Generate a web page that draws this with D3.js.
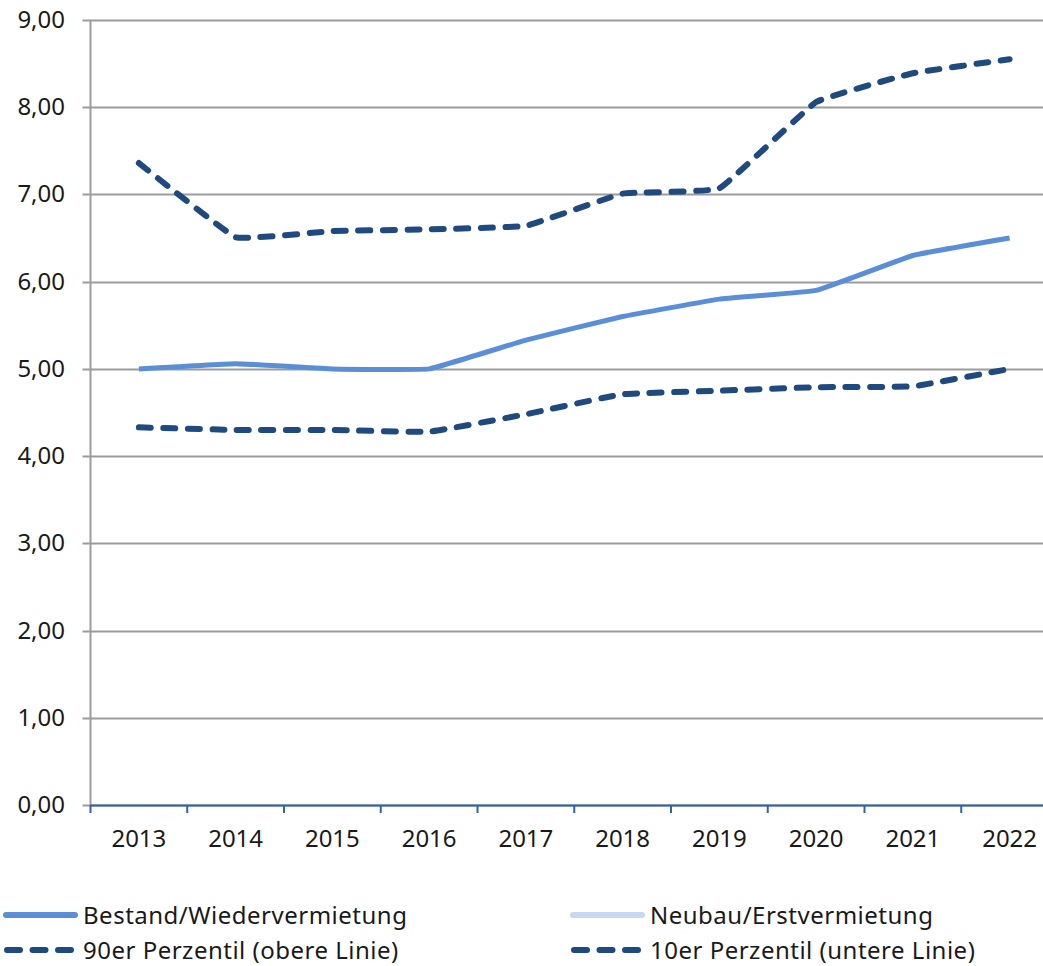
<!DOCTYPE html>
<html>
<head>
<meta charset="utf-8">
<script src="https://cdn.jsdelivr.net/npm/d3@7"></script>
<style>
  body { margin: 0; background: #fff; }
  svg { display: block; font-family: "Noto Sans", "Open Sans", sans-serif; }
</style>
</head>
<body>
<svg></svg>
<script>
const years = ['2013', '2014', '2015', '2016', '2017', '2018', '2019', '2020', '2021', '2022'];
const bestand = [5.00, 5.06, 5.00, 5.00, 5.33, 5.60, 5.80, 5.90, 6.30, 6.50];
const neubau = [];
const p90 = [7.36, 6.51, 6.58, 6.60, 6.64, 7.01, 7.07, 8.06, 8.39, 8.55];
const p10 = [4.33, 4.30, 4.30, 4.28, 4.48, 4.71, 4.75, 4.79, 4.80, 5.00];
const yTicks = [0, 1, 2, 3, 4, 5, 6, 7, 8, 9];

const [svgWidth, svgHeight] = [1043, 966];
const svg = d3.select('svg')
  .attr('width', svgWidth)
  .attr('height', svgHeight);

const plotLeft = 90.5;
const bandW = 96.75;
const x = d3.scaleBand()
  .domain(years)
  .range([plotLeft, plotLeft + bandW * years.length]);
const y = d3.scaleLinear()
  .domain([0, 9])
  .range([805, 20]);

// gridlines
svg.append('g')
  .selectAll('line')
  .data(yTicks)
  .join('line')
  .attr('x1', plotLeft - 8)
  .attr('x2', svgWidth)
  .attr('y1', d => Math.round(y(d)) + 0.5)
  .attr('y2', d => Math.round(y(d)) + 0.5)
  .attr('stroke', '#9c9c9c')
  .attr('stroke-width', 2);

// y axis line
svg.append('line')
  .attr('x1', plotLeft).attr('x2', plotLeft)
  .attr('y1', y(9)).attr('y2', y(0))
  .attr('stroke', '#9c9c9c')
  .attr('stroke-width', 2);

// y labels
svg.append('g')
  .selectAll('text')
  .data(yTicks)
  .join('text')
  .attr('x', 65)
  .attr('y', d => y(d) + 8)
  .attr('text-anchor', 'end')
  .attr('font-size', 24)
  .attr('fill', '#1a1a1a')
  .text(d => d3.format('.2f')(d).replace('.', ','));

// x axis
const xAxis = svg.append('g');
xAxis.append('line')
  .attr('x1', plotLeft).attr('x2', svgWidth)
  .attr('y1', y(0) + 0.5).attr('y2', y(0) + 0.5)
  .attr('stroke', '#2f63ad')
  .attr('stroke-width', 2);
xAxis.selectAll('line.tick')
  .data(years)
  .join('line')
  .attr('class', 'tick')
  .attr('x1', d => x(d)).attr('x2', d => x(d))
  .attr('y1', y(0)).attr('y2', y(0) + 8)
  .attr('stroke', '#2f63ad')
  .attr('stroke-width', 2);
xAxis.selectAll('text')
  .data(years)
  .join('text')
  .attr('x', d => x(d) + x.bandwidth() / 2)
  .attr('y', 847)
  .attr('text-anchor', 'middle')
  .attr('font-size', 24)
  .attr('fill', '#1a1a1a')
  .text(d => d);

const line = d3.line()
  .x((d, i) => x(years[i]) + x.bandwidth() / 2)
  .y(d => y(d))
  .curve(d3.curveCardinal.tension(0.75));

const series = [
  { name: 'Bestand/Wiedervermietung', values: bestand, color: '#5a8fd7', dash: null },
  { name: 'Neubau/Erstvermietung', values: neubau, color: '#c6d9f1', dash: null },
  { name: '90er Perzentil (obere Linie)', values: p90, color: '#1f4a7f', dash: '12 12.5' },
  { name: '10er Perzentil (untere Linie)', values: p10, color: '#1f4a7f', dash: '12 12.5' }
];

svg.append('g')
  .selectAll('path')
  .data(series.filter(s => s.values.length))
  .join('path')
  .attr('fill', 'none')
  .attr('stroke', d => d.color)
  .attr('stroke-width', d => d.dash ? 6 : 5)
  .attr('stroke-linecap', d => d.dash ? 'round' : 'butt')
  .attr('stroke-linejoin', 'round')
  .attr('stroke-dasharray', d => d.dash)
  .attr('d', d => line(d.values));

// legend
const legendPos = [[0, 915], [567, 915], [0, 950], [567, 950]];
const legend = svg.append('g')
  .selectAll('g')
  .data(series)
  .join('g')
  .attr('transform', (d, i) => `translate(${legendPos[i][0]}, ${legendPos[i][1]})`);
legend.append('line')
  .attr('x1', d => d.dash ? 7 : 6)
  .attr('x2', d => d.dash ? 72 : 75)
  .attr('stroke', d => d.color)
  .attr('stroke-width', 6)
  .attr('stroke-linecap', 'round')
  .attr('stroke-dasharray', d => d.dash ? '13 12.5' : null);
legend.append('text')
  .attr('x', 83)
  .attr('y', 9)
  .attr('font-size', 24)
  .attr('letter-spacing', 0.5)
  .attr('fill', '#1a1a1a')
  .text(d => d.name);
</script>
</body>
</html>
